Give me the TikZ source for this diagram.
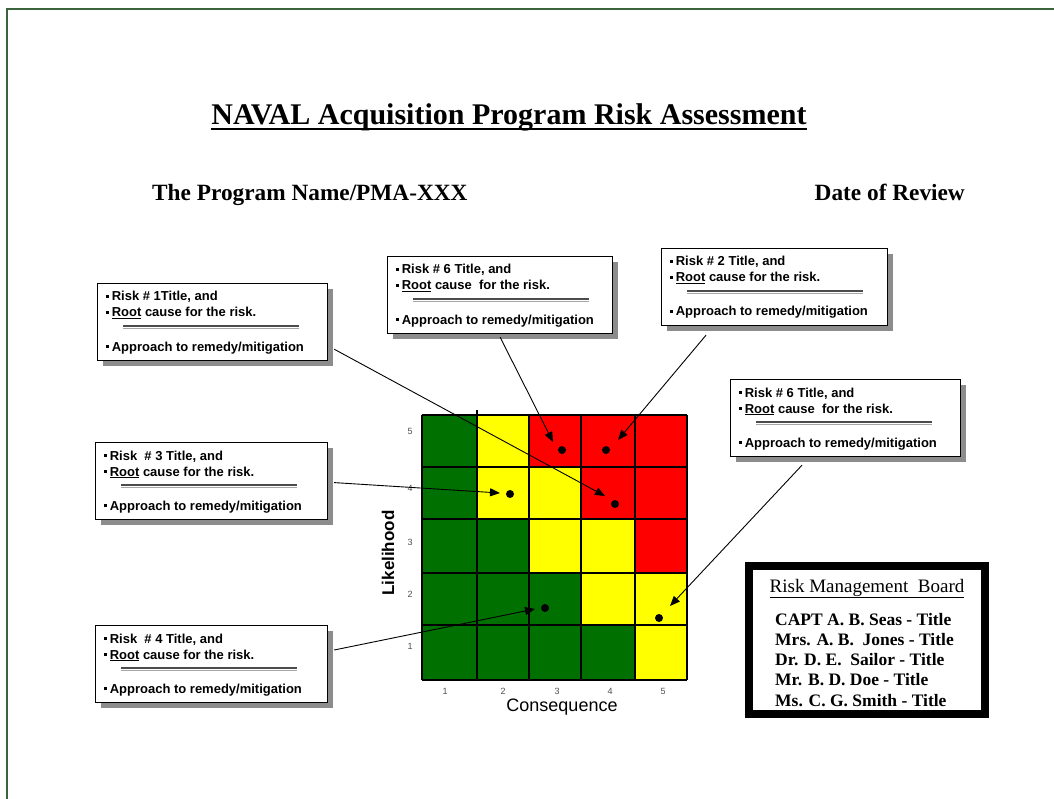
\documentclass[tikz,border=0pt]{standalone}
\usepackage{fontspec}
\setmainfont{Liberation Serif}
\setsansfont{Liberation Sans}
\usetikzlibrary{arrows.meta,calc}
\definecolor{gridgreen}{RGB}{0,112,0}
\definecolor{gridyellow}{RGB}{255,255,0}
\definecolor{gridred}{RGB}{255,0,0}
\definecolor{framegreen}{RGB}{60,100,60}
\definecolor{shadowgray}{RGB}{140,140,140}
\definecolor{tickgray}{RGB}{80,80,80}

\newcommand\bul{\raisebox{3pt}{\rule{2.6pt}{2.6pt}}\hspace{3pt}}

\tikzset{
  rbox/.style={draw, fill=white, line width=1.2pt, minimum height=77pt, inner sep=0pt},
  btext/.style={anchor=base west, inner sep=0pt, font=\sffamily\bfseries\fontsize{13}{15}\selectfont},
  uline1/.style={draw=black!70, line width=1.3pt},
  uline2/.style={draw=black!35, line width=1.3pt},
  conn/.style={draw, line width=0.9pt, -{Triangle[length=10pt,width=8pt]}},
  dot/.style={circle, fill=black, inner sep=0pt, minimum size=8pt},
  tick/.style={font=\sffamily\fontsize{9}{10}\selectfont, text=tickgray, inner sep=0pt},
  gridline/.style={line width=1.3pt},
  names/.style={anchor=base west, inner sep=0pt, font=\bfseries\fontsize{17.5}{20}\selectfont}
}

\newcommand\riskbox[6]{%
  \fill[shadowgray] (#2+6,#3+6) rectangle (#2+#4+6,#3+83);
  \node[rbox, minimum width=#4pt, anchor=north west] (#1) at (#2,#3) {};
  \node[btext] (#1a) at (#2+9,#3+18) {\bul #5};
  \node[btext] (#1b) at (#2+9,#3+34) {\bul #6};
  \draw[uline1] (#2+26,#3+43) -- (#2+202,#3+43);
  \draw[uline2] (#2+26,#3+45.5) -- (#2+202,#3+45.5);
  \node[btext] (#1c) at (#2+9,#3+68) {\bul Approach to remedy/mitigation};
}

\begin{document}
\begin{tikzpicture}[x=1pt,y=-1pt]
\useasboundingbox (0,0) rectangle (1054,799);
\fill[white] (0,0) rectangle (1054,799);

% frame
\draw[framegreen, line width=2.2pt] (7,799) -- (7,9) -- (1054,9);

% titles
\node[anchor=base, inner sep=0pt, font=\bfseries\fontsize{30}{32}\selectfont] (title) at (509,125) {NAVAL Acquisition Program Risk Assessment};
\draw[line width=2pt] ($(title.base west)+(0,4)$) -- ($(title.base east)+(0,4)$);
\node[anchor=base west, inner sep=0pt, font=\bfseries\fontsize{23.3}{25}\selectfont] (prog) at (152,201) {The Program Name/PMA-XXX};
\node[anchor=base east, inner sep=0pt, font=\bfseries\fontsize{23.3}{25}\selectfont] (date) at (965,201) {Date of Review};

% risk matrix cells
\foreach \ya/\yb/\ca/\cb/\cc/\cd/\ce in {
  415/467/gridgreen/gridyellow/gridred/gridred/gridred,
  467/519/gridgreen/gridyellow/gridyellow/gridred/gridred,
  519/573/gridgreen/gridgreen/gridyellow/gridyellow/gridred,
  573/625/gridgreen/gridgreen/gridgreen/gridyellow/gridyellow,
  625/680/gridgreen/gridgreen/gridgreen/gridgreen/gridyellow}{
  \fill[\ca] (422,\ya) rectangle (477,\yb);
  \fill[\cb] (477,\ya) rectangle (529,\yb);
  \fill[\cc] (529,\ya) rectangle (581,\yb);
  \fill[\cd] (581,\ya) rectangle (635,\yb);
  \fill[\ce] (635,\ya) rectangle (687,\yb);
}
\foreach \x in {422,477,529,581,635,687} \draw[gridline] (\x,415) -- (\x,680);
\foreach \y in {415,467,519,573,625,680} \draw[gridline] (422,\y) -- (687,\y);
\draw[gridline] (477,410) -- (477,415);

% ticks
\foreach \y/\t in {431/5,488/4,542/3,594/2,646/1} \node[tick] at (410,\y) {\t};
\foreach \x/\t in {445/1,503/2,557/3,610/4,663/5} \node[tick] at (\x,691) {\t};
\node[rotate=90, inner sep=0pt, font=\sffamily\bfseries\fontsize{17}{19}\selectfont] (ylab) at (388,553) {Likelihood};
\node[inner sep=0pt, font=\sffamily\fontsize{18}{20}\selectfont] (xlab) at (562,707) {Consequence};

% risk boxes
\riskbox{r1}{97}{283}{230}{Risk \# 1Title, and}{\underline{Root} cause for the risk.}
\riskbox{r6}{387}{256}{225}{Risk \# 6 Title, and}{\underline{Root} cause\ \ for the risk.}
\riskbox{r2}{661}{248}{226}{Risk \# 2 Title, and}{\underline{Root} cause for the risk.}
\riskbox{r8}{730}{379}{230}{Risk \# 6 Title, and}{\underline{Root} cause\ \ for the risk.}
\riskbox{r3}{95}{442}{232}{Risk\ \ \# 3 Title, and}{\underline{Root} cause for the risk.}
\riskbox{r4}{95}{625}{232}{Risk\ \ \# 4 Title, and}{\underline{Root} cause for the risk.}

% dots
\node[dot] (d6) at (562,450) {};
\node[dot] (d2) at (606,450) {};
\node[dot] (d3) at (510,494) {};
\node[dot] (d1) at (615,504) {};
\node[dot] (d4) at (545,608) {};
\node[dot] (d8) at (659,618) {};

% connector ends
\coordinate (s1) at ($(r1.south east)+(6,-12)$);
\coordinate (s6) at ($(r6.south)+(0,3)$);
\coordinate (s2) at ($(r2.south west)+(45,9)$);
\coordinate (s3) at ($(r3.east)+(6,1.5)$);
\coordinate (s4) at ($(r4.north east)+(6,25)$);
\coordinate (s8) at ($(r8.south west)+(72,8)$);
\coordinate (t1) at ($(d1)+(-10,-8)$);
\coordinate (t6) at ($(d6)+(-9,-8)$);
\coordinate (t2) at ($(d2)+(12,-10)$);
\coordinate (t3) at ($(d3)+(-10,-1)$);
\coordinate (t4) at ($(d4)+(-10,1)$);
\coordinate (t8) at ($(d8)+(11,-12)$);
\draw[conn] (s1) -- (t1);
\draw[conn] (s6) -- (t6);
\draw[conn] (s2) -- (t2);
\draw[conn] (s3) -- (t3);
\draw[conn] (s4) -- (t4);
\draw[conn] (s8) -- (t8);

% risk management board
\node[draw, line width=8pt, minimum width=236pt, minimum height=148pt, inner sep=0pt] (rmb) at (867,640) {};
\node[anchor=base, inner sep=0pt, font=\fontsize{19}{21}\selectfont] (rmbh) at (867,592) {\underline{Risk Management\ \ Board}};
\node[names] (m1) at (775,625) {CAPT A. B. Seas - Title};
\node[names] (m2) at (775,645) {Mrs. A. B.\ \ Jones - Title};
\node[names] (m3) at (775,665) {Dr. D. E.\ \ Sailor - Title};
\node[names] (m4) at (775,685) {Mr. B. D. Doe - Title};
\node[names] (m5) at (775,706) {Ms. C. G. Smith - Title};
\end{tikzpicture}
\end{document}
